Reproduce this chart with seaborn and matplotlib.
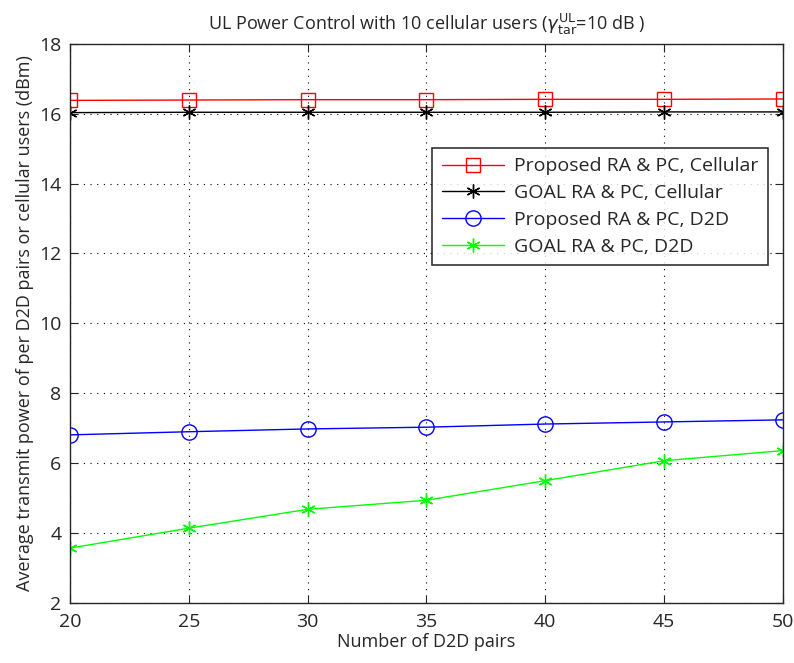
import matplotlib
matplotlib.use("Agg")
import matplotlib.pyplot as plt
import seaborn as sns
import pandas as pd

pairs = [20, 25, 30, 35, 40, 45, 50]
proposed_cell = [16.38, 16.39, 16.40, 16.40, 16.41, 16.41, 16.42]
goal_cell = [16.03, 16.04, 16.04, 16.04, 16.04, 16.05, 16.05]
proposed_d2d = [6.81, 6.90, 6.98, 7.03, 7.12, 7.18, 7.24]
goal_d2d = [3.57, 4.14, 4.68, 4.94, 5.50, 6.07, 6.36]

labels = ["Proposed RA & PC, Cellular", "GOAL RA & PC, Cellular",
          "Proposed RA & PC, D2D", "GOAL RA & PC, D2D"]

sns.set_style("ticks")
plt.rcParams['font.family'] = ['Open Sans', 'DejaVu Sans']
plt.rcParams['mathtext.fontset'] = 'dejavusans'

fig = plt.figure(figsize=(7.94, 6.63), dpi=100)
ax = fig.add_axes([0.088, 0.0905, 0.898, 0.8435])

series = [proposed_cell, goal_cell, proposed_d2d, goal_d2d]
colors = ["#ff0000", "#000000", "#0000ff", "#00ff00"]
markers = ["s", "*", "o", "*"]
msizes = [10, 10, 11, 10]
for vals, lab, c, m, ms in zip(series, labels, colors, markers, msizes):
    df = pd.DataFrame({"x": pairs, "y": vals})
    mk = dict(marker=m, markersize=ms, markerfacecolor="none", markeredgecolor=c, markeredgewidth=1.0)
    if m == "*":
        mk = dict(marker=(6, 2, 0), markersize=ms, markeredgecolor=c, markeredgewidth=1.0)
    sns.lineplot(data=df, x="x", y="y", ax=ax, color=c, label=lab, linewidth=1.0, **mk)

ax.set_xlim(20, 50)
ax.set_ylim(2, 18)
ax.set_xticks(pairs)
ax.set_yticks(range(2, 19, 2))
ax.grid(True, color="black", linestyle=(0, (1, 5)), linewidth=0.8)
ax.tick_params(direction="in", length=6, labelsize=14, top=True, right=True, width=0.8)
ax.tick_params(axis="x", pad=7)
ax.tick_params(axis="y", pad=6)
for s in ax.spines.values():
    s.set_linewidth(1.0)
ax.set_xlabel("Number of D2D pairs", fontsize=13, labelpad=2)
ax.set_ylabel("Average transmit power of per D2D pairs or cellular users (dBm)", fontsize=13, labelpad=4)
ax.set_title(r"UL Power Control with 10 cellular users ($\gamma_{\rm tar}^{\rm UL}$=10 dB )", fontsize=13, pad=10)

leg = ax.legend(loc="upper left", bbox_to_anchor=(0.508, 0.814), fontsize=14, frameon=True,
                fancybox=False, edgecolor="black", handlelength=3.2, borderpad=0.5,
                labelspacing=0.45, handletextpad=0.5, borderaxespad=0)
leg.get_frame().set_linewidth(1.2)

fig.savefig("out.png", dpi=100)
